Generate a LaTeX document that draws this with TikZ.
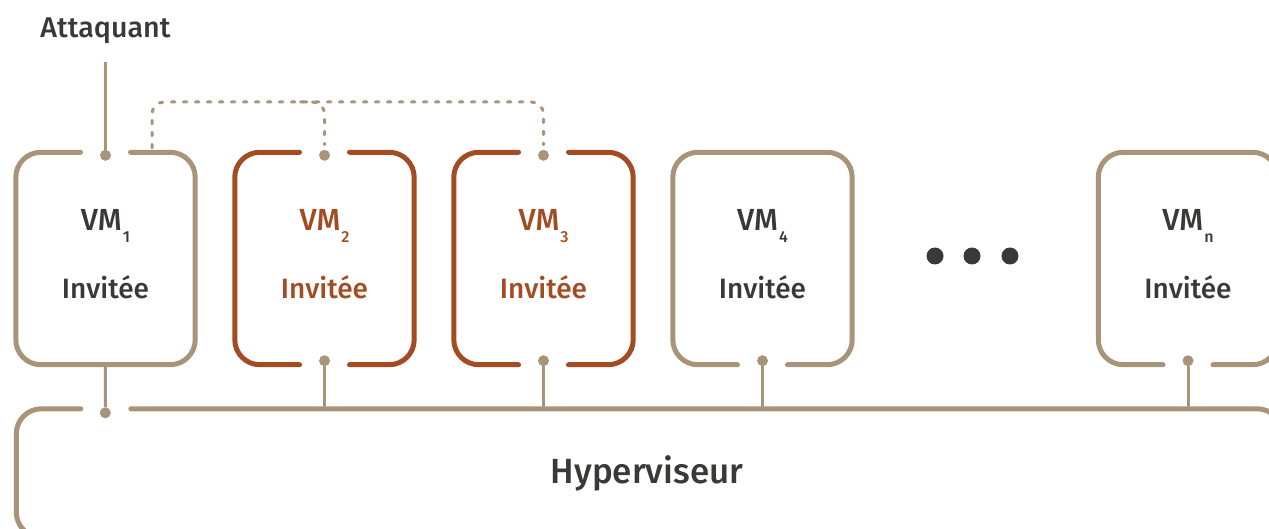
\documentclass[tikz,border=0pt]{standalone}
\usepackage{fontspec}
\setmainfont{Fira Sans Medium}
\usetikzlibrary{calc}
\definecolor{tanc}{HTML}{A89479}
\definecolor{rustc}{HTML}{A34B22}
\definecolor{inkc}{HTML}{3B3935}
\newcommand{\vmsubl}[1]{VM\kern1pt\raisebox{-12pt}{\fontsize{16}{16}\selectfont #1}}
\tikzset{
  vmframe/.style={draw=none, inner sep=0pt, minimum width=179pt, minimum height=212pt},
  boxline/.style={line width=5pt, line cap=round, rounded corners=25pt},
  wire/.style={tanc, line width=3pt},
  dotn/.style={circle, fill=tanc, inner sep=0pt, minimum size=11pt},
  bigdot/.style={circle, fill=inkc, inner sep=0pt, minimum size=17pt},
  dashwire/.style={tanc, line width=3pt, line cap=round, dash pattern=on 3.5pt off 8.5pt, rounded corners=12pt},
  lbl/.style={anchor=base, inner sep=0pt, font=\fontsize{28}{32}\selectfont},
  vmlbl/.style={lbl, font=\fontsize{30.5}{34}\selectfont},
}
\begin{document}
\begin{tikzpicture}[x=1pt,y=-1pt]
\useasboundingbox (0,0) rectangle (1269,529);
\clip (0,0) rectangle (1269,529);
% frames
\node[vmframe] (vm1) at (105.5,258.5) {};
\node[vmframe] (vm2) at (324.5,258.5) {};
\node[vmframe] (vm3) at (543.5,258.5) {};
\node[vmframe] (vm4) at (762.5,258.5) {};
\node[vmframe] (vmn) at (1188,258.5) {};
\node[draw=none, inner sep=0pt, minimum width=1265.5pt, minimum height=128pt] (hyp) at (649.25,473) {};
% outlines
\draw[boxline, tanc] ($(vm1.north)+(25,0)$) -- (vm1.north east) -- (vm1.south east) -- (vm1.south west) -- (vm1.north west) -- ($(vm1.north)+(-25,0)$);
\foreach \v in {vm2,vm3}{
  \draw[boxline, rustc] ($(\v.north)+(25,0)$) -- (\v.north east) -- (\v.south east) -- ($(\v.south)+(25,0)$);
  \draw[boxline, rustc] ($(\v.south)+(-25,0)$) -- (\v.south west) -- (\v.north west) -- ($(\v.north)+(-25,0)$);
}
\foreach \v in {vm4,vmn}{
  \draw[boxline, tanc] ($(\v.south)+(-25,0)$) -- (\v.south west) -- (\v.north west) -- (\v.north east) -- (\v.south east) -- ($(\v.south)+(25,0)$);
}
\draw[boxline, tanc] ($(hyp.north west)+(114.5,0)$) -- (hyp.north east) -- (hyp.south east) -- (hyp.south west) -- (hyp.north west) -- ($(hyp.north west)+(64.5,0)$);
% dots
\node[dotn] (d1t) at ($(vm1.north)+(0,3)$) {};
\node[dotn] (d2t) at ($(vm2.north)+(0,3)$) {};
\node[dotn] (d3t) at ($(vm3.north)+(0,3)$) {};
\node[dotn] (d2b) at ($(vm2.south)+(0,-4)$) {};
\node[dotn] (d3b) at ($(vm3.south)+(0,-4)$) {};
\node[dotn] (d4b) at ($(vm4.south)+(0,-4)$) {};
\node[dotn] (dnb) at ($(vmn.south)+(0,-4)$) {};
\node[dotn] (dh) at ($(hyp.north west)+(89,4)$) {};
% texts
\node[lbl, text=inkc, font=\fontsize{28.6}{32}\selectfont] (att) at (105.5,38) {Attaquant};
\node[vmlbl, text=inkc] (t1a) at (105.5,231) {\vmsubl{1}};
\node[vmlbl, text=rustc] (t2a) at (324.5,231) {\vmsubl{2}};
\node[vmlbl, text=rustc] (t3a) at (543.5,231) {\vmsubl{3}};
\node[vmlbl, text=inkc] (t4a) at (762.5,231) {\vmsubl{4}};
\node[vmlbl, text=inkc] (tna) at (1188,231) {\vmsubl{n}};
\node[lbl, text=inkc] (t1b) at (105.5,299) {Invitée};
\node[lbl, text=rustc] (t2b) at (324.5,299) {Invitée};
\node[lbl, text=rustc] (t3b) at (543.5,299) {Invitée};
\node[lbl, text=inkc] (t4b) at (762.5,299) {Invitée};
\node[lbl, text=inkc] (tnb) at (1188,299) {Invitée};
\node[lbl, text=inkc, font=\fontsize{35}{40}\selectfont] (hypt) at (647,483) {Hyperviseur};
% ellipsis dots
\node[bigdot] (e1) at (935,256) {};
\node[bigdot] (e2) at (972,256) {};
\node[bigdot] (e3) at (1010,256) {};
% connectors
\coordinate (attend) at (105.5,62);
\draw[wire] (attend) -- (d1t);
\draw[wire] (vm1.south) -- (dh);
\foreach \d in {d2b,d3b,d4b,dnb}{ \draw[wire] (\d) -- (\d |- hyp.north); }
\coordinate (ds) at (152,148);
\coordinate (bus) at (0,102);
\draw[dashwire] (ds) -- (ds |- bus) -- (d3t |- bus) -- ([yshift=5pt]d3t.north);
\draw[dashwire] ($(d2t |- bus)+(-24,0)$) -- (d2t |- bus) -- ([yshift=5pt]d2t.north);
\end{tikzpicture}
\end{document}
